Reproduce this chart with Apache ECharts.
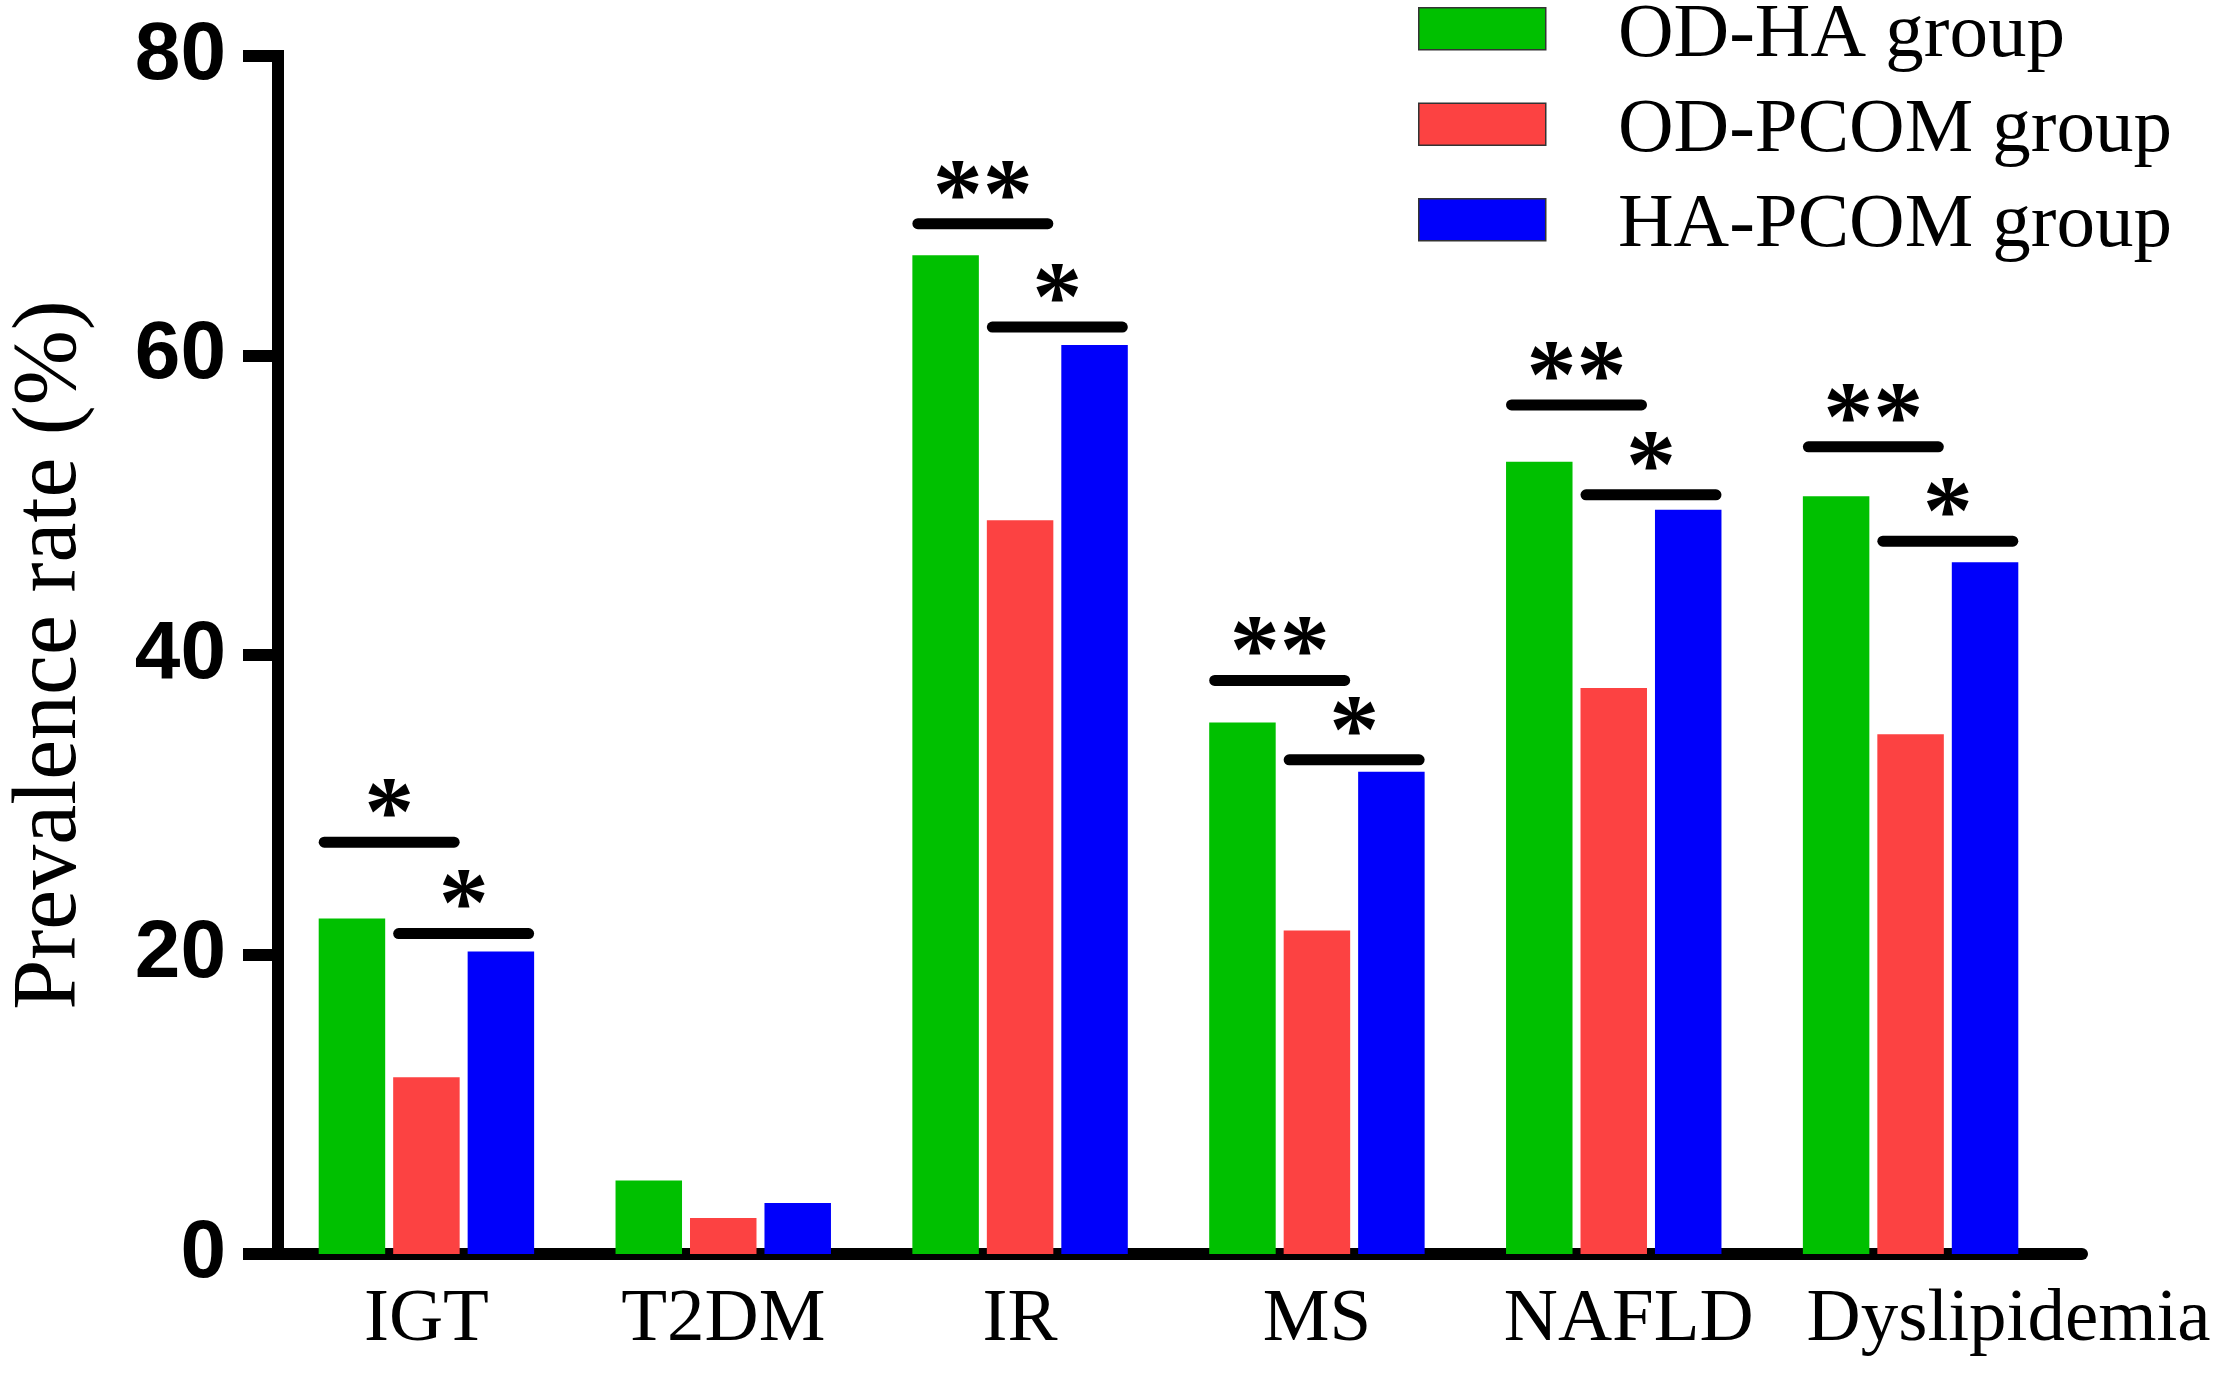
<!DOCTYPE html>
<html>
<head>
<meta charset="utf-8">
<script src="https://cdn.jsdelivr.net/npm/echarts@6/dist/echarts.min.js"></script>
<style>
  html, body { margin: 0; padding: 0; background: #fff; }
  #chart { width: 2216px; height: 1376px; }
</style>
</head>
<body>
<div id="chart"></div>
<script>
var categories = ['IGT', 'T2DM', 'IR', 'MS', 'NAFLD', 'Dyslipidemia'];
var seriesNames = ['OD-HA group', 'OD-PCOM group', 'HA-PCOM group'];
var odHa = [22.4, 4.9, 66.7, 35.5, 52.9, 50.6];
var odPcom = [11.8, 2.4, 49.0, 21.6, 37.8, 34.7];
var haPcom = [20.2, 3.4, 60.7, 32.2, 49.7, 46.2];
var yTicks = [0, 20, 40, 60, 80];
// significance bars: [category index, height, from bar, to bar, marks]
var sigBars = [
  [0, 27.5, 0, 1, '*'],
  [0, 21.4, 1, 2, '*'],
  [2, 68.8, 0, 1, '**'],
  [2, 61.9, 1, 2, '*'],
  [3, 38.3, 0, 1, '**'],
  [3, 33.0, 1, 2, '*'],
  [4, 56.7, 0, 1, '**'],
  [4, 50.7, 1, 2, '*'],
  [5, 53.9, 0, 1, '**'],
  [5, 47.6, 1, 2, '*']
];

var colors = ['#00c000', '#fc4242', '#0000fb'];
var BAR_FRAC = 0.224;   // bar width / band width
var BAR_GAP = 0.12;     // gap / bar width
var LW = 12;
var serif = 'Liberation Serif, Times New Roman, serif';
// the last two labels sit a bit right of their ticks in the original
var labelShift = { NAFLD: 15, Dyslipidemia: 98 };

var chart = echarts.init(document.getElementById('chart'));

function renderSig(params, api) {
  var c = api.coord([api.value(0), api.value(1)]);
  var band = api.size([1, 0])[0];
  var bw = band * BAR_FRAC;
  var step = bw * (1 + BAR_GAP);
  var from = api.value(2), to = api.value(3);
  var lw = 11;
  var x1 = c[0] + (from - 1) * step - bw / 2 + lw / 2;
  var x2 = c[0] + (to - 1) * step + bw / 2 - lw / 2;
  return {
    type: 'group',
    children: [
      {
        type: 'line',
        shape: { x1: x1, y1: c[1], x2: x2, y2: c[1] },
        style: { stroke: '#000', lineWidth: lw, lineCap: 'round' }
      },
      {
        type: 'text',
        x: (x1 + x2) / 2,
        y: c[1] + 26,
        style: {
          text: api.value(4),
          fill: '#000',
          font: 'bold 100px ' + serif,
          textAlign: 'center',
          textVerticalAlign: 'bottom'
        }
      }
    ]
  };
}

var barSeries = [odHa, odPcom, haPcom].map(function (vals, i) {
  return {
    name: seriesNames[i],
    type: 'bar',
    data: vals,
    barWidth: (BAR_FRAC * 100) + '%',
    barGap: (BAR_GAP * 100) + '%',
    itemStyle: { color: colors[i] }
  };
});

var xData = categories.map(function (c) {
  var s = labelShift[c];
  return s ? { value: c, textStyle: { padding: [0, 0, 0, s * 2] } } : c;
});

var option = {
  backgroundColor: '#fff',
  animation: false,
  grid: { left: 278, right: 157, top: 56, bottom: 122, outerBoundsMode: 'none', containLabel: false },
  // two legends: the swatches, and the names set a little lower as in the original
  legend: [{
    orient: 'vertical',
    left: 1418,
    top: 7,
    padding: 0,
    icon: 'rect',
    itemWidth: 127,
    itemHeight: 42,
    itemGap: 52,
    data: seriesNames,
    itemStyle: { borderColor: '#333', borderWidth: 1.5 },
    formatter: function () { return ''; },
    textStyle: { fontSize: 1 }
  }, {
    orient: 'vertical',
    left: 1418,
    top: -3,
    padding: 0,
    icon: 'rect',
    itemWidth: 127,
    itemHeight: 42,
    itemGap: 18,
    data: seriesNames,
    itemStyle: { opacity: 0 },
    textStyle: {
      fontFamily: serif,
      fontSize: 77,
      color: '#000',
      padding: [0, 0, 0, 68]
    }
  }],
  xAxis: {
    type: 'category',
    data: xData,
    axisLine: { lineStyle: { color: '#000', width: LW, cap: 'round' } },
    axisTick: { alignWithLabel: true, length: 35, lineStyle: { color: '#000', width: LW } },
    axisLabel: {
      margin: 29,
      fontFamily: serif,
      fontSize: 75,
      color: '#000',
      interval: 0
    }
  },
  yAxis: {
    type: 'value',
    min: 0,
    max: 80,
    interval: 20,
    name: 'Prevalence rate (%)',
    nameLocation: 'middle',
    nameGap: 182,
    nameTextStyle: { fontFamily: serif, fontSize: 90, color: '#000' },
    splitLine: { show: false },
    axisLine: { show: true, lineStyle: { color: '#000', width: LW, cap: 'square' } },
    axisTick: { show: true, length: 35, lineStyle: { color: '#000', width: LW } },
    axisLabel: {
      margin: 52,
      fontFamily: 'Liberation Sans, Arial, sans-serif',
      fontWeight: 'bold',
      fontSize: 82,
      color: '#000',
      formatter: function (v) { return yTicks.indexOf(v) >= 0 ? String(v) : ''; }
    }
  },
  series: barSeries.concat([{
    type: 'custom',
    renderItem: renderSig,
    encode: { x: 0, y: 1 },
    data: sigBars,
    z: 5
  }])
};

chart.setOption(option);

// x axis line runs a little past the last category in the original
var y0 = chart.convertToPixel({ yAxisIndex: 0 }, 0);
chart.setOption({
  graphic: [{
    type: 'line',
    shape: { x1: 2216 - 157, y1: y0, x2: 2082, y2: y0 },
    style: { stroke: '#000', lineWidth: LW, lineCap: 'round' }
  }]
});
</script>
</body>
</html>
